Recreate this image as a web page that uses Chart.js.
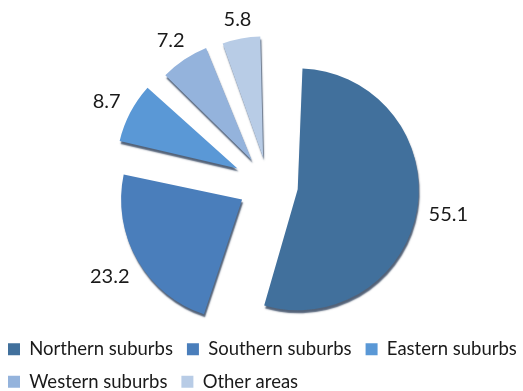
<!DOCTYPE html>
<html>
<head>
<meta charset="utf-8">
<script src="https://cdn.jsdelivr.net/npm/chart.js@4/dist/chart.umd.min.js"></script>
<style>
  html, body { margin: 0; padding: 0; background: #ffffff; }
  #wrap { width: 523px; height: 391px; }
</style>
</head>
<body>
<div id="wrap"><canvas id="c" width="523" height="391"></canvas></div>
<script>
// ---- data ----
const categories = ['Northern suburbs', 'Southern suburbs', 'Eastern suburbs', 'Western suburbs', 'Other areas'];
const values = [55.1, 23.2, 8.7, 7.2, 5.8];
const valueLabels = ['55.1', '23.2', '8.7', '7.2', '5.8'];

// ---- styles ----
const colors = ['#41709c', '#4a7ebb', '#5a98d6', '#94b3dc', '#b8cce6'];
const explode = [120, 120, 138, 118, 110];
const FONT = 'Lato, "Open Sans", "Liberation Sans", sans-serif';

// keep every slice at the same radius despite Chart.js' offset radius growth
const equalRadius = {
  id: 'equalRadius',
  afterDatasetUpdate(chart, args) {
    const meta = args.meta;
    meta.data.forEach((arc) => {
      const off = (arc.options.offset || 0) / 4;
      const fix = 1 - Math.sin(Math.min(Math.PI, arc.circumference || 0));
      arc.outerRadius = arc.outerRadius - off * fix;
    });
  }
};

// 3D-ish depth shadow + outside value labels
const depthAndLabels = {
  id: 'depthAndLabels',
  beforeDatasetsDraw(chart) {
    const ctx = chart.ctx;
    ctx.save();
    ctx.shadowColor = 'rgba(25,45,75,0.75)';
    ctx.shadowOffsetX = 1;
    ctx.shadowOffsetY = 3;
    ctx.shadowBlur = 1.5;
  },
  afterDatasetsDraw(chart) {
    const ctx = chart.ctx;
    ctx.restore();
    const meta = chart.getDatasetMeta(0);
    ctx.save();
    ctx.font = '20px ' + FONT;
    ctx.fillStyle = '#1a1a1a';
    ctx.textAlign = 'center';
    ctx.textBaseline = 'middle';
    meta.data.forEach((arc, i) => {
      const off = (arc.options.offset || 0) / 4;
      const fix = 1 - Math.sin(Math.min(Math.PI, arc.circumference || 0));
      const r = arc.outerRadius + off * fix;
      const mid = (arc.startAngle + arc.endAngle) / 2;
      const ux = Math.cos(mid), uy = Math.sin(mid);
      const cx = arc.x + ux * off, cy = arc.y + uy * off;
      const txt = valueLabels[i];
      const w = ctx.measureText(txt).width;
      const h = 14;
      const d = r + 11 + Math.abs(ux) * w / 2 + Math.abs(uy) * h / 2;
      ctx.fillText(txt, cx + ux * d, cy + uy * d + 1);
    });
    ctx.restore();
  }
};

new Chart(document.getElementById('c'), {
  type: 'pie',
  data: {
    labels: categories,
    datasets: [{
      data: values,
      backgroundColor: colors,
      borderWidth: 0,
      offset: explode,
      radius: 121,
      clip: false
    }]
  },
  options: {
    responsive: false,
    devicePixelRatio: 1,
    animation: false,
    events: [],
    layout: { padding: { left: -6, right: -28, top: 43, bottom: -10 } },
    plugins: {
      tooltip: { enabled: false },
      // empty spacer on the left of the plot area only (shifts the pie a little right)
      title: {
        display: true,
        text: ' ',
        position: 'left',
        fullSize: false,
        font: { size: 1 },
        padding: { top: 9, bottom: 9 }
      },
      legend: {
        position: 'bottom',
        align: 'start',
        labels: {
          boxWidth: 12,
          boxHeight: 12,
          padding: 14,
          color: '#1a1a1a',
          font: { family: FONT, size: 18.5 }
        }
      }
    }
  },
  plugins: [equalRadius, depthAndLabels]
});
</script>
</body>
</html>
